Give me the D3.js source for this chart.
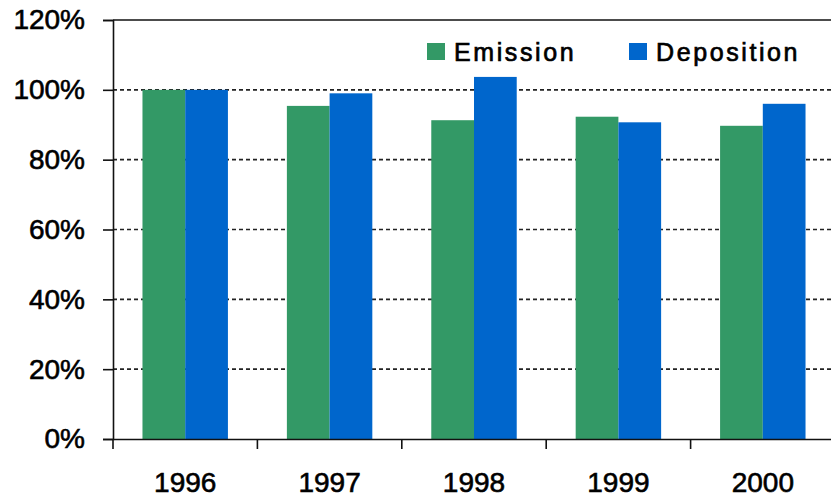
<!DOCTYPE html>
<html>
<head>
<meta charset="utf-8">
<script src="https://cdn.jsdelivr.net/npm/d3@7"></script>
<style>
  html, body { margin: 0; padding: 0; background: #fff; }
  svg { display: block; }
  text { font-family: "Liberation Sans", Arial, sans-serif; fill: #000; stroke: #000; stroke-width: 0.6px; }
</style>
</head>
<body>
<svg id="chart" width="831" height="497"></svg>
<script>
// Relative emission and deposition, indexed to 1996 = 100%
const years = ["1996", "1997", "1998", "1999", "2000"];
const emission = [100, 95.4, 91.3, 92.3, 89.7];
const deposition = [100, 99.0, 103.7, 90.7, 96.0];
const seriesNames = ["Emission", "Deposition"];
const seriesColors = ["#339966", "#0066CC"];
const yTicks = [0, 20, 40, 60, 80, 100, 120];

const svg = d3.select("#chart");
const margin = { left: 113, top: 20, right: -4, bottom: 58 };
const W = 831, H = 497;
const plotRight = W - margin.right;   // the frame runs slightly past the window edge
const plotBottom = H - margin.bottom;

const x = d3.scaleBand().domain(years).range([margin.left, plotRight]).paddingInner(0).paddingOuter(0);
const xs = d3.scaleBand().domain(seriesNames).range([0, x.bandwidth()]).paddingInner(0).paddingOuter(0.69);
const y = d3.scaleLinear().domain([0, 120]).range([plotBottom, margin.top]);

const rows = years.map((yr, i) => ({ year: yr, values: [emission[i], deposition[i]] }));

// dashed gridlines
svg.append("g")
  .selectAll("line")
  .data(yTicks.filter(t => t > 0 && t < 120))
  .join("line")
  .attr("x1", margin.left).attr("x2", plotRight)
  .attr("y1", d => y(d)).attr("y2", d => y(d))
  .attr("stroke", "#222").attr("stroke-width", 1.6)
  .attr("stroke-dasharray", "4,3");

// bars
const groups = svg.append("g").selectAll("g")
  .data(rows).join("g")
  .attr("transform", d => `translate(${x(d.year)},0)`);
groups.selectAll("rect")
  .data(d => d.values.map((v, k) => ({ key: seriesNames[k], value: v, color: seriesColors[k] })))
  .join("rect")
  .attr("x", d => xs(d.key))
  .attr("width", xs.bandwidth())
  .attr("y", d => y(d.value))
  .attr("height", d => y(0) - y(d.value))
  .attr("fill", d => d.color);

// top frame line
svg.append("line")
  .attr("x1", margin.left).attr("x2", plotRight)
  .attr("y1", y(120)).attr("y2", y(120))
  .attr("stroke", "#111").attr("stroke-width", 1.6);

// y axis
const yAxis = svg.append("g")
  .attr("transform", `translate(${margin.left},0)`)
  .call(d3.axisLeft(y).tickValues(yTicks).tickFormat(d => d + "%").tickSize(10).tickPadding(18));
yAxis.select(".domain").attr("stroke", "#111").attr("stroke-width", 1.6);
yAxis.selectAll(".tick line").attr("stroke", "#111").attr("stroke-width", 1.6);
yAxis.selectAll("text").style("font-size", "28px").attr("fill", "#000");

// x axis
const xAxis = svg.append("g")
  .attr("transform", `translate(0,${plotBottom})`)
  .call(d3.axisBottom(x).tickSize(0).tickPadding(33));
xAxis.select(".domain").attr("stroke", "#111").attr("stroke-width", 1.6);
xAxis.selectAll("text").style("font-size", "28px").attr("fill", "#000");

// category separator ticks
svg.append("g").selectAll("line")
  .data(years)
  .join("line")
  .attr("x1", d => x(d)).attr("x2", d => x(d))
  .attr("y1", plotBottom).attr("y2", plotBottom + 10)
  .attr("stroke", "#111").attr("stroke-width", 1.6);

// legend
const legendItems = [
  { name: seriesNames[0], color: seriesColors[0], x: 427 },
  { name: seriesNames[1], color: seriesColors[1], x: 629 }
];
const lg = svg.append("g").selectAll("g").data(legendItems).join("g")
  .attr("transform", d => `translate(${d.x},43)`);
lg.append("rect").attr("width", 18).attr("height", 17).attr("fill", d => d.color);
lg.append("text").attr("x", 27).attr("y", 8.5).attr("dy", "0.36em")
  .style("font-size", "25px").style("letter-spacing", "2.6px").style("stroke-width", "0.7px")
  .text(d => d.name);
</script>
</body>
</html>
